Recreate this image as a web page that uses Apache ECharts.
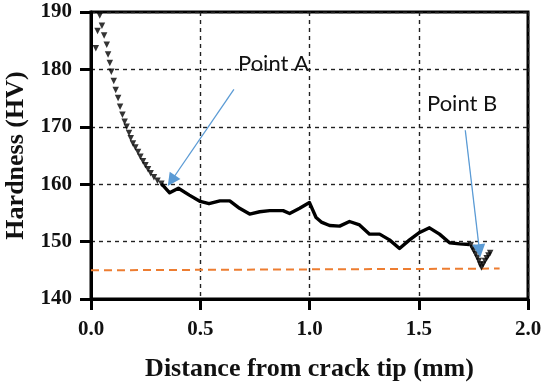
<!DOCTYPE html>
<html>
<head>
<meta charset="utf-8">
<script src="https://cdn.jsdelivr.net/npm/echarts@6/dist/echarts.min.js"></script>
<style>html,body{margin:0;padding:0;background:#fff}#c{width:550px;height:390px}</style>
</head>
<body>
<div id="c"></div>
<script>
// ---- data ----
const xTickLabels = ['0.0', '0.5', '1.0', '1.5', '2.0'];
const yTickLabels = ['140', '150', '160', '170', '180', '190'];

// steep near-tip measurements (drawn as separate triangle markers)
const tipDots = [
  [0.022,183.7],[0.030,186.7],[0.040,189.4],[0.050,187.6],[0.060,185.9],[0.072,184.3],
  [0.078,182.6],[0.086,181.1],[0.093,179.6],[0.104,178.0],[0.113,176.4],[0.124,175.0],
  [0.133,173.5],[0.144,172.1],[0.154,170.9],[0.163,170.0],[0.174,168.9],[0.182,168.0],
  [0.192,167.1],[0.203,166.4],[0.215,165.6],[0.226,164.8],[0.238,164.0],[0.249,163.3],
  [0.261,162.6],[0.273,161.9],[0.288,161.2],[0.304,160.6],[0.322,160.1]
];
// dense profile (markers merge into a solid trace)
const profileX = [0.322,0.36,0.40,0.45,0.50,0.54,0.59,0.635,0.68,0.726,0.772,0.818,0.879,0.909,0.955,1.0,
  1.03,1.054,1.092,1.138,1.183,1.229,1.275,1.321,1.366,1.412,1.458,1.504,1.549,1.595,1.641,1.687,1.732];
const profileY = [160.1,158.5,159.3,158.1,157.0,156.6,157.1,157.1,155.8,154.8,155.2,155.4,155.4,154.9,155.8,156.8,
  154.2,153.4,152.8,152.7,153.5,152.9,151.3,151.3,150.3,148.8,150.3,151.6,152.4,151.3,149.8,149.6,149.5];
// steep end section near Point B (separate markers)
const endDots = [
  [1.738,149.4],[1.745,148.9],[1.752,148.4],[1.760,147.8],[1.768,147.2],[1.775,146.6],[1.781,146.0],
  [1.787,145.5],[1.795,146.0],[1.803,146.6],[1.811,147.1],[1.819,147.6],[1.827,148.0]
];
// reference hardness (orange dashed)
const baselineX = [0.0, 1.87];
const baselineY = [145.0, 145.3];

// annotations
const arrowA = {from: [0.654, 176.5], to: [0.368, 160.6], label: 'Point A'};
const arrowB = {from: [1.713, 169.4], to: [1.778, 148.4], label: 'Point B'};

const serif = '"Liberation Serif", serif';
const sans = 'Lato';

const chart = echarts.init(document.getElementById('c'), null, {renderer: 'canvas'});
const dashed = {show: true, lineStyle: {color: '#222', width: 1.4, type: [4, 4]}};
const tickFont = {fontFamily: serif, fontWeight: 'bold', fontSize: 21, color: '#111'};

chart.setOption({
  animation: false,
  backgroundColor: '#fff',
  textStyle: {fontFamily: serif},
  grid: {left: 91, right: 22, top: 12, bottom: 91, show: true, borderColor: '#000', borderWidth: 3,
    backgroundColor: 'transparent', containLabel: false, outerBoundsMode: 'none'},
  xAxis: {
    type: 'value', min: 0, max: 2, interval: 0.5,
    name: 'Distance from crack tip (mm)', nameLocation: 'middle', nameGap: 57,
    nameTextStyle: {fontFamily: serif, fontWeight: 'bold', fontSize: 26, color: '#111'},
    axisLine: {show: true, lineStyle: {color: '#000', width: 3}},
    axisTick: {show: true, inside: false, length: 11, lineStyle: {color: '#000', width: 3}},
    axisLabel: Object.assign({margin: 20, formatter: (v) => xTickLabels[Math.round(v / 0.5)]}, tickFont),
    splitLine: dashed
  },
  yAxis: {
    type: 'value', min: 140, max: 190, interval: 10,
    name: 'Hardness (HV)', nameLocation: 'middle', nameGap: 61, nameRotate: 90,
    nameTextStyle: {fontFamily: serif, fontWeight: 'bold', fontSize: 26, color: '#111'},
    axisLine: {show: true, lineStyle: {color: '#000', width: 3}},
    axisTick: {show: true, inside: false, length: 11, lineStyle: {color: '#000', width: 3}},
    axisLabel: Object.assign({margin: 19, formatter: (v) => yTickLabels[Math.round((v - 140) / 10)]}, tickFont),
    splitLine: dashed
  },
  series: [
    {
      type: 'line', name: 'baseline', silent: true, showSymbol: false, z: 2,
      data: baselineX.map((x, i) => [x, baselineY[i]]),
      lineStyle: {color: '#ED7D31', width: 2, type: [8, 5]}
    },
    {
      type: 'scatter', name: 'tip', silent: true, z: 3,
      data: tipDots.concat(endDots),
      symbol: 'triangle', symbolRotate: 180, symbolSize: 6.5,
      itemStyle: {color: '#000'}
    },
    {
      type: 'line', name: 'profile', silent: true, showSymbol: false, z: 3,
      data: profileX.map((x, i) => [x, profileY[i]]),
      lineStyle: {color: '#000', width: 3.4, join: 'round'},
      markLine: {
        silent: true, symbol: ['none', 'triangle'], symbolSize: 13, animation: false,
        label: {show: false},
        lineStyle: {color: '#5B9BD5', width: 1.3, type: 'solid'},
        data: [
          [{coord: arrowA.from}, {coord: arrowA.to}],
          [{coord: arrowB.from}, {coord: arrowB.to}]
        ]
      }
    }
  ],
  graphic: [
    {type: 'text', left: 238, top: 53, style: {text: arrowA.label, fontFamily: sans, fontSize: 22, fill: '#111'}},
    {type: 'text', left: 427, top: 93, style: {text: arrowB.label, fontFamily: sans, fontSize: 22, fill: '#111'}}
  ]
});
</script>
</body>
</html>
